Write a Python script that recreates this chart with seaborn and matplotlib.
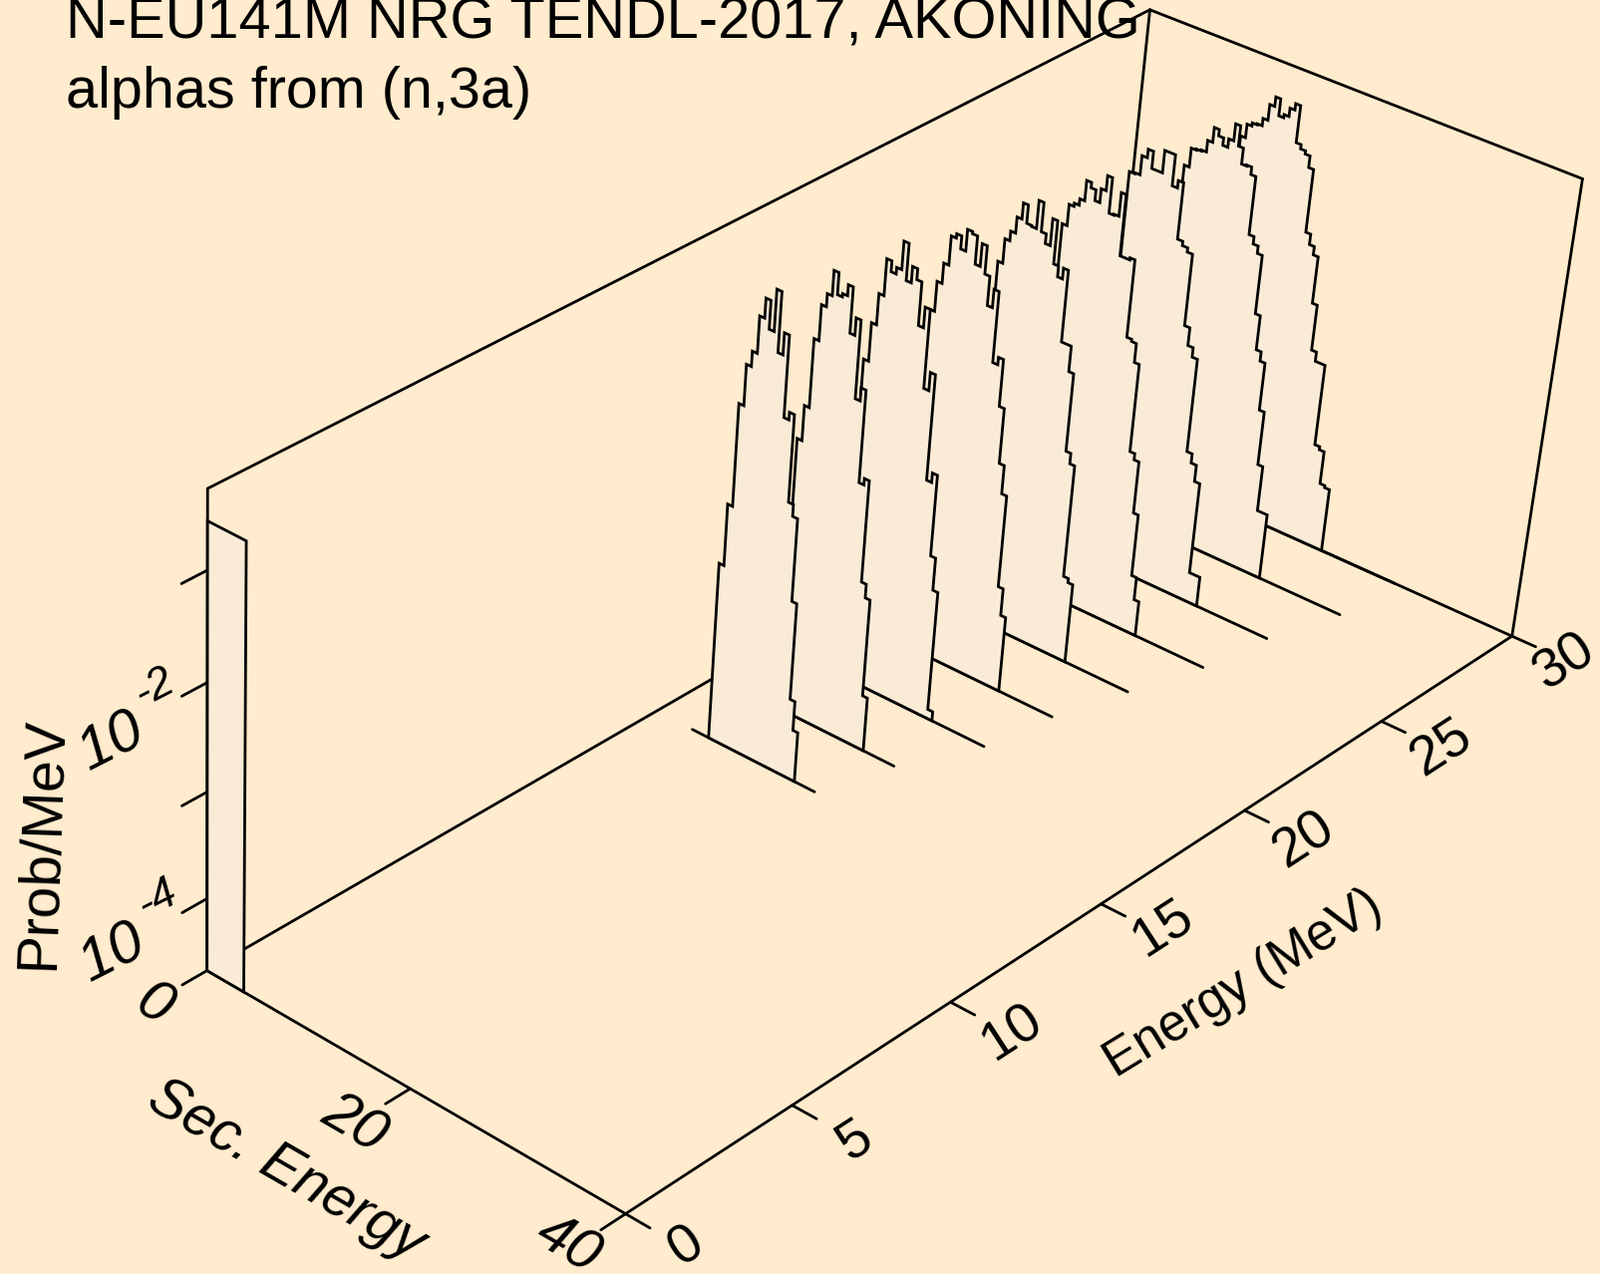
import numpy as np
import matplotlib
matplotlib.use("Agg")
import matplotlib.pyplot as plt
import seaborn as sns

TITLE = ["N-EU141M NRG TENDL-2017, AKONING", "alphas from (n,3a)"]
E_TICKS = [0, 5, 10, 15, 20, 25, 30]
S_TICKS = [0, 20, 40]
Z_TICKS = [-4, -3, -2, -1]
E_MAX, S_MAX, Z_MIN, Z_MAX = 30.0, 40.0, -4.69, -0.29

inc_energy = [14, 16, 18, 20, 22, 24, 26, 28, 30]
s_low = [5.26, 6.33, 6.6, 7.1, 7.9, 8.5, 9.3, 9.5, 9.7]
s_high = [13.77, 14.71, 15.74, 16.69, 17.68, 19.17, 19.89, 20.85, 21.83]
line_low = [3.63, 4.7, 5.0, 5.5, 6.3, 6.9, 7.7, 7.9, 8.1]
line_high = [15.75, 17.71, 20.80, 21.87, 23.77, 25.73, 26.69, 28.63, 28.9]
log_prob_e14 = [-2.985,-2.40,-1.44,-1.06,-.92,-.58,-.40,-.66,-.28,-.83,-.63,-1.38,-1.31,-2.12,-2.23,-3.01,-3.93,-4.21]
log_prob_e16 = [-2.07,-1.74,-1.10,-.77,-.65,-.42,-.62,-.59,-.49,-.91,-.75,-1.47,-1.35,-2.21,-2.15,-3.11,-3.24,-4.17]
log_prob_e18 = [-1.62,-1.26,-.97,-.63,-.73,-.67,-.41,-.75,-.60,-.70,-1.10,-.91,-1.64,-1.47,-2.46,-2.37,-3.14,-3.45,-4.60]
log_prob_e20 = [-1.43,-1.15,-.96,-.69,-.65,-.77,-.57,-.59,-.85,-.64,-.90,-1.17,-1.0,-1.66,-1.59,-2.03,-2.55,-2.82,-3.70,-3.96]
log_prob_e22 = [-1.24,-1.01,-.92,-.77,-.62,-.79,-.80,-.54,-.81,-.90,-.65,-1.05,-1.15,-1.05,-1.72,-1.72,-1.96,-2.70,-2.80,-3.88,-3.92]
log_prob_e24 = [-1.15,-.95,-.92,-.86,-.67,-.72,-.82,-.69,-.55,-.88,-.87,-.65,-1.22,-1.22,-1.20,-1.93,-1.95,-2.13,-2.97,-3.03,-3.53,-4.13,-4.35]
log_prob_e26 = [-.91,-.90,-.72,-.64,-.80,-.80,-.59,-.59,-.88,-.81,-1.34,-1.38,-1.42,-2.10,-2.27,-2.36,-3.26,-3.35,-3.51,-4.40,-4.40]
log_prob_e28 = [-1.12,-.94,-.93,-.92,-.81,-.67,-.73,-.80,-.72,-.56,-.75,-.90,-.89,-.96,-1.51,-1.58,-1.65,-2.21,-2.54,-2.63,-3.09,-3.61,-4.05,-4.05]
log_prob_e30 = [-1.11,-.98,-.95,-.94,-.87,-.72,-.63,-.79,-.76,-.68,-.62,-.97,-1.01,-1.04,-1.15,-1.75,-1.85,-1.93,-2.38,-2.82,-2.91,-2.91,-3.70,-3.73,-4.05,-4.07]
log_prob = [log_prob_e14, log_prob_e16, log_prob_e18, log_prob_e20, log_prob_e22,
            log_prob_e24, log_prob_e26, log_prob_e28, log_prob_e30]
first_s_high = 3.7
first_log_prob = -0.57

# camera calibration: (E, S, log10 P) -> pixel on the 1605x1278 canvas
anchors = [
 (0,0,Z_MIN,208,974.5),(0,40,Z_MIN,626.5,1217),(30,40,Z_MIN,1516,637),(30,0,Z_MIN,1106.5,453.5),
 (30,0,Z_MAX,1153.6,10),(0,0,Z_MAX,208,490),(30,40,Z_MAX,1587.6,180),
 (0,0,-4,208,902),(0,0,-3,208,795),(0,0,-2,208,684),(0,0,-1,208,571),
 (5,40,Z_MIN,794.3,1108.6),(10,40,Z_MIN,952,1005.2),(15,40,Z_MIN,1105.5,906),
 (20,40,Z_MIN,1248.8,813.8),(25,40,Z_MIN,1387,724.7),(0,20,Z_MIN,412.5,1092.2),
]
def fit_camera(rows):
    A, b = [], []
    for E, S, Z, px, py in rows:
        v = [E/E_MAX, S/S_MAX, (Z-Z_MIN)/(Z_MAX-Z_MIN), 1.0]
        A.append(v+[0,0,0,0]+[-px*c for c in v[:3]]); b.append(px)
        A.append([0,0,0,0]+v+[-py*c for c in v[:3]]); b.append(py)
    sol = np.linalg.lstsq(np.array(A), np.array(b), rcond=None)[0]
    return np.append(sol, 1.0).reshape(3, 4)
CAM = fit_camera(anchors)
def project(E, S, Z):
    E, S, Z = np.broadcast_arrays(np.asarray(E, float), np.asarray(S, float), np.asarray(Z, float))
    v = np.stack([E/E_MAX, S/S_MAX, (Z-Z_MIN)/(Z_MAX-Z_MIN), np.ones_like(E)])
    w = CAM @ v
    return w[0]/w[2], w[1]/w[2]

BG = "#FFEBCD"
sns.set_theme(style="white", rc={"figure.facecolor": BG, "axes.facecolor": BG})
plt.rcParams["font.family"] = ["Liberation Sans", "DejaVu Sans"]
fig = plt.figure(figsize=(16.05, 12.78), dpi=100)
ax = fig.add_axes([0, 0, 1, 1])
ax.set_xlim(0, 1605); ax.set_ylim(1278, 0); ax.axis("off")
order = [0]
LW = 2.0
def line(E, S, Z, lw=LW):
    order[0] += 1
    x, y = project(E, S, Z)
    sns.lineplot(x=x, y=y, sort=False, estimator=None, errorbar=None, color="black", lw=lw,
                 ax=ax, zorder=order[0], legend=False)
def face(E, S, Z):
    order[0] += 1
    x, y = project(E, S, Z)
    ax.fill(x, y, facecolor="#FAEBD7", edgecolor="black", lw=LW, zorder=order[0], joinstyle="miter")

# box
line([0,30],[0,0],[Z_MIN]*2)
line([30,30],[0,40],[Z_MIN]*2)
line([30,30],[0,0],[Z_MIN,Z_MAX])
line([0,30],[0,0],[Z_MAX]*2)
line([30,30],[0,40],[Z_MAX]*2)
line([30,30],[40,40],[Z_MIN,Z_MAX])
line([0,0],[0,0],[Z_MIN,Z_MAX])
line([0,30],[40,40],[Z_MIN]*2)
line([0,0],[0,40],[Z_MIN]*2)
for e in E_TICKS: line([e,e],[40,42.2],[Z_MIN]*2)
for s in S_TICKS: line([0,-0.72],[s,s],[Z_MIN]*2)
for z in Z_TICKS: line([0,-0.72],[0,0],[z,z])

for i in range(len(inc_energy)-1, -1, -1):
    E = inc_energy[i]
    vals = log_prob[i]
    edges = np.linspace(s_low[i], s_high[i], len(vals)+1)
    line([E,E],[line_low[i],line_high[i]],[Z_MIN]*2)
    SS = [edges[0]]; ZZ = [Z_MIN]
    for k, v in enumerate(vals):
        SS += [edges[k], edges[k+1]]; ZZ += [v, v]
    SS.append(edges[-1]); ZZ.append(Z_MIN)
    face([E]*len(SS), SS, ZZ)
face([0,0,0,0],[0,0,first_s_high,first_s_high],[Z_MIN,first_log_prob,first_log_prob,Z_MIN])

def label(x, y, s, rot, size=40, style="normal"):
    ax.text(x, y, s, rotation=rot, rotation_mode="anchor", ha="center", va="center", fontsize=size,
            style=style, color="black", zorder=1000)
ax.text(66, 39, TITLE[0], fontsize=41.6, ha="left", va="baseline", zorder=1000, color="black")
ax.text(66, 108, TITLE[1], fontsize=41.4, ha="left", va="baseline", zorder=1000, color="black")

for e, (x, y) in zip(E_TICKS, [(689,1250),(858,1144),(1016,1036),(1167,931),(1308,843),(1446,751),(1570,664)]):
    label(x, y, str(e), 33)
for s, (x, y) in zip(S_TICKS, [(154,1009),(355,1128),(570,1249)]):
    label(x, y, str(s), -30, size=42, style="italic")
label(1247, 987, "Energy (MeV)", 31.5, size=37)
label(287, 1174, "Sec. Energy", -30, size=41, style="italic")
label(42, 846, "Prob/MeV", 88, size=41)
label(112, 745, "10", 27, size=43, style="italic")
label(155, 690, "-2", 27, size=32, style="italic")
label(113, 957, "10", 27, size=43, style="italic")
label(158, 902, "-4", 27, size=32, style="italic")
fig.savefig("out.png", dpi=100, facecolor=fig.get_facecolor())
